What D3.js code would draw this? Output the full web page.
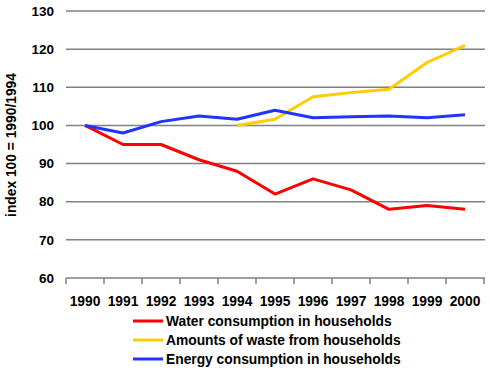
<!DOCTYPE html>
<html>
<head>
<meta charset="utf-8">
<script src="https://cdn.jsdelivr.net/npm/d3@7"></script>
<style>
html,body{margin:0;padding:0;background:#fff;}
svg{display:block;font-family:"Liberation Sans",Arial,sans-serif;font-weight:bold;}
</style>
</head>
<body>
<svg id="chart" width="490" height="371"></svg>
<script>
const years = ["1990","1991","1992","1993","1994","1995","1996","1997","1998","1999","2000"];
const water = [100, 95, 95, 91, 88, 82, 86, 83.1, 78, 79, 78];
const waste = [null, null, null, null, 100, 101.6, 107.5, 108.6, 109.5, 116.5, 121];
const energy = [100, 98, 101, 102.5, 101.6, 104, 102, 102.3, 102.5, 102, 102.8];
const yTicks = [60, 70, 80, 90, 100, 110, 120, 130];
const seriesNames = ["Water consumption in households", "Amounts of waste from households", "Energy consumption in households"];
const seriesColors = ["#ff0000", "#ffcc00", "#1f35ff"];
const yTitle = "index 100 = 1990/1994";

const svg = d3.select("#chart");
const x = d3.scaleBand().domain(years).range([66, 484]);
const y = d3.scaleLinear().domain([60, 130]).range([278, 11]);

// gridlines
svg.append("g").selectAll("line").data(yTicks.filter(d => d > 60)).join("line")
  .attr("x1", 66).attr("x2", 485)
  .attr("y1", d => y(d)).attr("y2", d => y(d))
  .attr("stroke", "#808080").attr("stroke-width", 1.5);

// y labels
svg.append("g").selectAll("text").data(yTicks).join("text")
  .attr("x", 54).attr("y", d => y(d)).attr("dy", "0.35em")
  .attr("text-anchor", "end").attr("font-size", 13.5).attr("fill", "#000")
  .text(d => d);

// bottom axis
const xAxis = d3.axisBottom(x).tickSize(6).tickSizeOuter(0).tickFormat("");
const gx = svg.append("g").attr("transform", `translate(0,${y(60)})`).call(xAxis);
gx.select(".domain").attr("stroke", "#808080").attr("stroke-width", 1.5).attr("d", "M66,0H485");
gx.selectAll(".tick line").remove();
// boundary ticks
const bounds = years.map(d => x(d)).concat([x(years[years.length-1]) + x.bandwidth()]);
gx.selectAll("line.bt").data(bounds).join("line").attr("class","bt")
  .attr("x1", d => d).attr("x2", d => d).attr("y1", 0).attr("y2", 6)
  .attr("stroke", "#808080").attr("stroke-width", 1.5);

svg.append("g").selectAll("text").data(years).join("text")
  .attr("x", d => x(d) + x.bandwidth()/2).attr("y", 306)
  .attr("text-anchor", "middle").attr("font-size", 13.8).attr("fill", "#000")
  .text(d => d);

// y title
svg.append("text").attr("transform", "translate(16,145) rotate(-90)")
  .attr("text-anchor", "middle").attr("font-size", 13.8).attr("fill", "#000")
  .text(yTitle);

// lines
const line = d3.line()
  .defined(d => d.v != null)
  .x(d => x(d.k) + x.bandwidth()/2)
  .y(d => y(d.v));
[water, waste, energy].forEach((arr, i) => {
  svg.append("path")
    .datum(years.map((k, j) => ({k, v: arr[j]})))
    .attr("d", line).attr("fill", "none")
    .attr("stroke", seriesColors[i]).attr("stroke-width", 3)
    .attr("stroke-linejoin", "round");
});

// legend
const lg = svg.append("g");
seriesNames.forEach((n, i) => {
  const ly = 321 + i * 19;
  lg.append("line").attr("x1", 133).attr("x2", 163).attr("y1", ly).attr("y2", ly)
    .attr("stroke", seriesColors[i]).attr("stroke-width", 3);
  lg.append("text").attr("x", 166).attr("y", ly).attr("dy", "0.35em")
    .attr("font-size", 13.8).attr("fill", "#000").text(n);
});
</script>
</body>
</html>
